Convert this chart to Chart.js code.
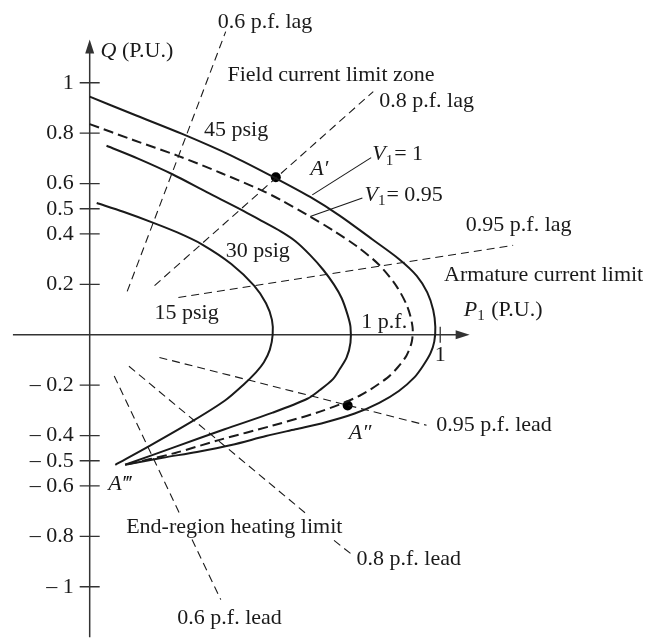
<!DOCTYPE html>
<html>
<head>
<meta charset="utf-8">
<script src="https://cdn.jsdelivr.net/npm/chart.js@4.4.0/dist/chart.umd.min.js"></script>
<style>
  html, body { margin: 0; padding: 0; background: #fff; }
  #wrap { width: 652px; height: 640px; }
</style>
</head>
<body>
<div id="wrap"><canvas id="chart" width="652" height="640"></canvas></div>
<script>
// capability curves, [P, Q] in per unit
const curve45 = [[0, 0.945], [0.124, 0.875], [0.264, 0.797], [0.404, 0.711], [0.531, 0.621], [0.629, 0.547],
  [0.713, 0.473], [0.806, 0.379], [0.882, 0.301], [0.933, 0.234], [0.963, 0.168], [0.98, 0.098], [0.986, 0.031],
  [0.983, -0.027], [0.972, -0.074], [0.952, -0.121], [0.927, -0.168], [0.882, -0.223], [0.826, -0.27],
  [0.756, -0.3125], [0.671, -0.348], [0.587, -0.375], [0.503, -0.402], [0.404, -0.4375], [0.306, -0.465],
  [0.208, -0.488], [0.101, -0.516]];
const curveV095 = [[0, 0.836], [0.124, 0.773], [0.25, 0.711], [0.376, 0.641], [0.489, 0.574], [0.545, 0.535],
  [0.629, 0.469], [0.699, 0.41], [0.761, 0.352], [0.826, 0.277], [0.876, 0.191], [0.907, 0.109], [0.921, 0.031],
  [0.919, -0.027], [0.904, -0.082], [0.879, -0.129], [0.848, -0.172], [0.77, -0.242], [0.657, -0.305],
  [0.525, -0.359], [0.368, -0.418], [0.244, -0.469], [0.101, -0.516]];
const curve30 = [[0.048, 0.75], [0.138, 0.699], [0.236, 0.637], [0.334, 0.566], [0.433, 0.496], [0.489, 0.453],
  [0.545, 0.41], [0.587, 0.371], [0.629, 0.316], [0.666, 0.258], [0.697, 0.199], [0.719, 0.145], [0.736, 0.078],
  [0.744, 0.031], [0.744, -0.031], [0.733, -0.09], [0.713, -0.137], [0.694, -0.176], [0.657, -0.219],
  [0.621, -0.254], [0.522, -0.309], [0.385, -0.375], [0.244, -0.445], [0.101, -0.516]];
const curve15 = [[0.02, 0.523], [0.096, 0.488], [0.18, 0.445], [0.25, 0.406], [0.32, 0.359], [0.404, 0.281],
  [0.469, 0.195], [0.503, 0.125], [0.52, 0.059], [0.522, 0], [0.514, -0.059], [0.497, -0.109], [0.475, -0.148],
  [0.438, -0.199], [0.385, -0.262], [0.292, -0.344], [0.171, -0.441], [0.073, -0.516]];

// power factor lines (segments broken where labels sit)
const pfLag06 = [[0.107, 0.172], [0.388, 1.203]];
const pfLag08 = [[0.185, 0.195], [0.809, 0.965]];
const pfLag095 = [[0.253, 0.148], [1.208, 0.355]];
const pfLead095 = [[0.199, -0.09], [0.961, -0.359]];
const pfLead08a = [[0.112, -0.125], [0.615, -0.707]];
const pfLead08b = [[0.697, -0.816], [0.747, -0.871]];
const pfLead06a = [[0.07, -0.164], [0.257, -0.711]];
const pfLead06b = [[0.292, -0.8125], [0.374, -1.051]];

// leaders to the V labels
const leaderV1 = [[0.635, 0.555], [0.803, 0.703]];
const leaderV095 = [[0.629, 0.469], [0.778, 0.543]];

// operating points A', A''
const markPoints = [[0.531, 0.625], [0.736, -0.281]];

const yTicks = [1, 0.8, 0.6, 0.5, 0.4, 0.2, -0.2, -0.4, -0.5, -0.6, -0.8, -1];
const xTicks = [1];

const xRange = [-0.2416, 1.5899];
const yRange = [-1.1914, 1.3086];
const xAxisSpan = [-0.219, 1.084];
const yAxisSpan = [-1.2, 1.172];

const labels = [
  { parts: [{ t: '0.6 p.f. lag' }], p: 0.365, q: 1.242 },
  { parts: [{ t: 'Q', it: true }, { t: ' (P.U.)' }], p: 0.031, q: 1.125 },
  { parts: [{ t: 'Field current limit zone' }], p: 0.393, q: 1.031 },
  { parts: [{ t: '0.8 p.f. lag' }], p: 0.826, q: 0.926 },
  { parts: [{ t: '45 psig' }], p: 0.326, q: 0.8125 },
  { parts: [{ t: 'A\u2032', it: true }], p: 0.629, q: 0.656 },
  { parts: [{ t: 'V', it: true }, { t: '1', sub: true }, { t: '= 1' }], p: 0.806, q: 0.715 },
  { parts: [{ t: 'V', it: true }, { t: '1', sub: true }, { t: '= 0.95' }], p: 0.784, q: 0.555 },
  { parts: [{ t: '0.95 p.f. lag' }], p: 1.073, q: 0.434 },
  { parts: [{ t: '30 psig' }], p: 0.388, q: 0.332 },
  { parts: [{ t: 'Armature current limit' }], p: 1.011, q: 0.238 },
  { parts: [{ t: '15 psig' }], p: 0.185, q: 0.086 },
  { parts: [{ t: 'P', it: true }, { t: '1', sub: true }, { t: ' (P.U.)' }], p: 1.067, q: 0.098 },
  { parts: [{ t: '1 p.f.' }], p: 0.775, q: 0.051 },
  { parts: [{ t: 'A\u2033', it: true }], p: 0.739, q: -0.391 },
  { parts: [{ t: '0.95 p.f. lead' }], p: 0.989, q: -0.359 },
  { parts: [{ t: 'A\u2034', it: true }], p: 0.053, q: -0.594 },
  { parts: [{ t: 'End-region heating limit' }], p: 0.104, q: -0.762 },
  { parts: [{ t: '0.8 p.f. lead' }], p: 0.761, q: -0.891 },
  { parts: [{ t: '0.6 p.f. lead' }], p: 0.25, q: -1.125 }
];

const FONT = '"Liberation Serif", "DejaVu Serif", serif';
const INK = '#1a1a1a';

function toXY(pts) {
  return pts.map(([x, y]) => ({ x: x, y: y }));
}

function curve(pts, dash) {
  return { data: toXY(pts), showLine: true, pointRadius: 0, borderColor: INK, borderWidth: 2,
    borderDash: dash || [], tension: 0.3, fill: false };
}

function pfLine(pts) {
  return { data: toXY(pts), showLine: true, pointRadius: 0, borderColor: INK, borderWidth: 1.1,
    borderDash: [8, 5], tension: 0, fill: false };
}

function leader(pts) {
  return { data: toXY(pts), showLine: true, pointRadius: 0, borderColor: INK, borderWidth: 1.1,
    tension: 0, fill: false };
}

function drawRich(ctx, parts, px, py) {
  let cx = px;
  parts.forEach(function (p) {
    const size = p.sub ? 15 : 22;
    ctx.font = (p.it ? 'italic ' : '') + size + 'px ' + FONT;
    ctx.fillText(p.t, cx, p.sub ? py + 6 : py);
    cx += ctx.measureText(p.t).width + (p.sub ? 1 : 0);
  });
}

const axesPlugin = {
  id: 'axes',
  beforeDatasetsDraw(chart) {
    const ctx = chart.ctx;
    const x = chart.scales.x, y = chart.scales.y;
    const x0 = x.getPixelForValue(0), y0 = y.getPixelForValue(0);
    const xa = x.getPixelForValue(xAxisSpan[0]), xb = x.getPixelForValue(xAxisSpan[1]);
    const ya = y.getPixelForValue(yAxisSpan[0]), yb = y.getPixelForValue(yAxisSpan[1]);
    ctx.save();
    ctx.strokeStyle = '#333';
    ctx.fillStyle = '#333';
    ctx.lineWidth = 1.5;
    ctx.beginPath();
    ctx.moveTo(xa, y0); ctx.lineTo(xb - 6, y0);
    ctx.moveTo(x0, ya); ctx.lineTo(x0, yb + 6);
    ctx.stroke();
    // arrow heads
    ctx.beginPath();
    ctx.moveTo(xb, y0); ctx.lineTo(xb - 14, y0 - 4.5); ctx.lineTo(xb - 14, y0 + 4.5); ctx.closePath();
    ctx.moveTo(x0, yb); ctx.lineTo(x0 - 4.5, yb + 14); ctx.lineTo(x0 + 4.5, yb + 14); ctx.closePath();
    ctx.fill();
    // ticks
    ctx.lineWidth = 1.3;
    ctx.beginPath();
    yTicks.forEach(function (v) {
      const py = y.getPixelForValue(v);
      ctx.moveTo(x0 - 10, py); ctx.lineTo(x0 + 10, py);
    });
    xTicks.forEach(function (v) {
      const px = x.getPixelForValue(v);
      ctx.moveTo(px, y0 - 8); ctx.lineTo(px, y0 + 8);
    });
    ctx.stroke();
    ctx.fillStyle = INK;
    ctx.font = '22px ' + FONT;
    ctx.textBaseline = 'middle';
    ctx.textAlign = 'right';
    yTicks.forEach(function (v) {
      const txt = v < 0 ? '\u2013 ' + Math.abs(v) : String(v);
      ctx.fillText(txt, x0 - 16, y.getPixelForValue(v));
    });
    ctx.textAlign = 'center';
    xTicks.forEach(function (v) {
      ctx.fillText(String(v), x.getPixelForValue(v), y0 + 20);
    });
    ctx.restore();
  },
  afterDatasetsDraw(chart) {
    const ctx = chart.ctx;
    const x = chart.scales.x, y = chart.scales.y;
    ctx.save();
    ctx.fillStyle = INK;
    ctx.textBaseline = 'middle';
    ctx.textAlign = 'left';
    labels.forEach(function (l) {
      drawRich(ctx, l.parts, x.getPixelForValue(l.p), y.getPixelForValue(l.q));
    });
    ctx.restore();
  }
};

new Chart(document.getElementById('chart'), {
  type: 'scatter',
  data: {
    datasets: [
      curve(curve45),
      curve(curveV095, [10, 5]),
      curve(curve30),
      curve(curve15),
      pfLine(pfLag06), pfLine(pfLag08), pfLine(pfLag095),
      pfLine(pfLead095), pfLine(pfLead08a), pfLine(pfLead08b), pfLine(pfLead06a), pfLine(pfLead06b),
      leader(leaderV1), leader(leaderV095),
      { data: toXY(markPoints), showLine: false, pointRadius: 5, pointBackgroundColor: '#000',
        pointBorderColor: '#000', pointBorderWidth: 0 }
    ]
  },
  options: {
    responsive: false,
    animation: false,
    events: [],
    layout: { padding: 0 },
    plugins: { legend: { display: false }, tooltip: { enabled: false } },
    scales: {
      x: { type: 'linear', min: xRange[0], max: xRange[1], display: false },
      y: { type: 'linear', min: yRange[0], max: yRange[1], display: false }
    }
  },
  plugins: [axesPlugin]
});
</script>
</body>
</html>
